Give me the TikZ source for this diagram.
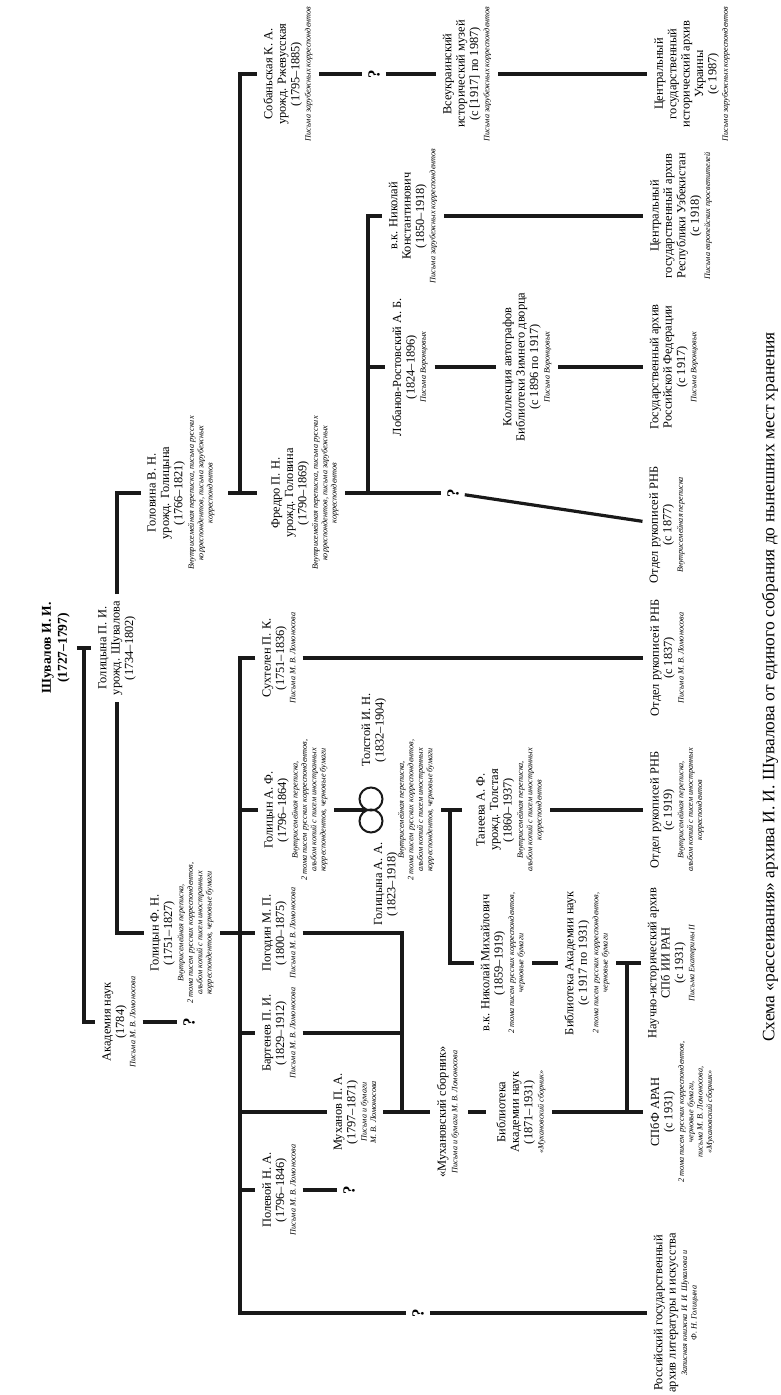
\documentclass[tikz,border=0pt]{standalone}
\usepackage{fontspec}
\setmainfont{Liberation Serif}
\newcommand\nt[1]{{\fontsize{8.2}{9.5}\selectfont\itshape #1}}
\begin{document}
\begin{tikzpicture}[x=1pt,y=-1pt,
  txt/.style={rotate=90,align=center,inner sep=1pt,outer sep=6pt,font=\fontsize{12.4}{13.4}\selectfont},
  qm/.style={rotate=90,inner sep=1pt,outer sep=5pt,font=\fontsize{17}{17}\selectfont\bfseries},
  conn/.style={line width=3.2pt,draw=black!90},
  ring/.style={line width=2pt,draw=black!90}]
\fill[white] (0,0) rectangle (780,1395);
\useasboundingbox (0,0) rectangle (780,1395);

% ---------- nodes ----------
\node[txt,font=\fontsize{13.5}{16}\selectfont\bfseries] (shuv) at (56,648) {Шувалов И. И.\\(1727–1797)};
\node[txt] (golP) at (117,648) {Голицына П. И.\\урожд. Шувалова\\(1734–1802)};
\node[txt] (akad) at (119,1022) {Академия наук\\(1784)\\[-2pt]\nt{Письма М. В. Ломоносова}};
\node[qm] (q3) at (189,1022) {?};
\node[txt] (golovina) at (181,493) {Головина В. Н.\\урожд. Голицына\\(1766–1821)\\[-2pt]\nt{Внутрисемейная переписка, письма русских}\\[-4pt]\nt{корреспондентов, письма зарубежных}\\[-4pt]\nt{корреспондентов}};
\node[txt] (golF) at (182,933) {Голицын Ф. Н.\\(1751–1827)\\[-2pt]\nt{Внутрисемейная переписка,}\\[-4pt]\nt{2 тома писем русских корреспондентов,}\\[-4pt]\nt{альбом копий с писем иностранных}\\[-4pt]\nt{корреспондентов, черновые бумаги}};

\node[txt] (sob) at (288,74) {Собаньская К. А.\\урожд. Ржевусская\\(1795–1885)\\[-2pt]\nt{Письма зарубежных корреспондентов}};
\node[qm] (q1) at (374,74) {?};
\node[txt] (vseukr) at (467,74) {Всеукраинский\\исторический музей\\(с [1917] по 1987)\\[-2pt]\nt{Письма зарубежных корреспондентов}};
\node[txt] (cgiau) at (692,74) {Центральный\\государственный\\исторический архив\\Украины\\(с 1987)\\[-2pt]\nt{Письма зарубежных корреспондентов}};

\node[txt] (vkNK) at (413,216) {в.к. Николай\\Константинович\\(1850–1918)\\[-2pt]\nt{Письма зарубежных корреспондентов}};
\node[txt] (uzb) at (681,216) {Центральный\\государственный архив\\Республики Узбекистан\\(с 1918)\\[-2pt]\nt{Письма европейских просветителей}};

\node[txt] (lob) at (410,367) {Лобанов-Ростовский А. Б.\\(1824–1896)\\[-2pt]\nt{Письма Воронцовых}};
\node[txt] (koll) at (527,367) {Коллекция автографов\\Библиотеки Зимнего дворца\\(с 1896 по 1917)\\[-2pt]\nt{Письма Воронцовых}};
\node[txt] (garf) at (674,367) {Государственный архив\\Российской Федерации\\(с 1917)\\[-2pt]\nt{Письма Воронцовых}};

\node[txt] (fredro) at (305,493) {Фредро П. Н.\\урожд. Головина\\(1790–1869)\\[-2pt]\nt{Внутрисемейная переписка, письма русских}\\[-4pt]\nt{корреспондентов, письма зарубежных}\\[-4pt]\nt{корреспондентов}};
\node[qm] (q2) at (453,493) {?};
\node[txt] (rnb77) at (667,525) {Отдел рукописей РНБ\\(с 1877)\\[-2pt]\nt{Внутрисемейная переписка}};

\node[txt] (sukh) at (279,658) {Сухтелен П. К.\\(1751–1836)\\[-2pt]\nt{Письма М. В. Ломоносова}};
\node[txt] (rnb37) at (667,658) {Отдел рукописей РНБ\\(с 1837)\\[-2pt]\nt{Письма М. В. Ломоносова}};

\node[txt] (golAF) at (296,810) {Голицын А. Ф.\\(1796–1864)\\[-2pt]\nt{Внутрисемейная переписка,}\\[-4pt]\nt{2 тома писем русских корреспондентов,}\\[-4pt]\nt{альбом копий с писем иностранных}\\[-4pt]\nt{корреспондентов, черновые бумаги}};
\node[txt] (tolst) at (374,730) {Толстой И. Н.\\(1832–1904)};
\node[txt] (golAA) at (386,884) {Голицына А. А.\\(1823–1918)};
\node[txt,font=\fontsize{8.2}{9.5}\selectfont\itshape] (tnotes) at (416,810) {Внутрисемейная переписка,\\2 тома писем русских корреспондентов,\\альбом копий с писем иностранных\\корреспондентов, черновые бумаги};
\node[txt] (tan) at (510,810) {Танеева А. Ф.\\урожд. Толстая\\(1860–1937)\\[-2pt]\nt{Внутрисемейная переписка,}\\[-4pt]\nt{альбом копий с писем иностранных}\\[-4pt]\nt{корреспондентов}};
\node[txt] (rnb19) at (677,810) {Отдел рукописей РНБ\\(с 1919)\\[-2pt]\nt{Внутрисемейная переписка,}\\[-4pt]\nt{альбом копий с писем иностранных}\\[-4pt]\nt{корреспондентов}};

\node[txt] (pogodin) at (279,933) {Погодин М. П.\\(1800–1875)\\[-2pt]\nt{Письма М. В. Ломоносова}};
\node[txt] (bart) at (279,1033) {Бартенев П. И.\\(1829–1912)\\[-2pt]\nt{Письма М. В. Ломоносова}};
\node[txt] (polev) at (279,1190) {Полевой Н. А.\\(1796–1846)\\[-2pt]\nt{Письма М. В. Ломоносова}};
\node[qm] (q4) at (349,1190) {?};

\node[txt] (vkNM) at (503,963) {в.к. Николай Михайлович\\(1859–1919)\\[-2pt]\nt{2 тома писем русских корреспондентов,}\\[-4pt]\nt{черновые бумаги}};
\node[txt] (banLib2) at (587,963) {Библиотека Академии наук\\(с 1917 по 1931)\\[-2pt]\nt{2 тома писем русских корреспондентов,}\\[-4pt]\nt{черновые бумаги}};
\node[txt] (nia) at (672,963) {Научно-исторический архив\\СПб ИИ РАН\\(с 1931)\\[-2pt]\nt{Письма Екатерины II}};

\node[txt] (muh) at (355,1112) {Муханов П. А.\\(1797–1871)\\[-2pt]\nt{Письма и бумаги}\\[-4pt]\nt{М. В. Ломоносова}};
\node[txt] (muhsb) at (448,1112) {«Мухановский сборник»\\[-2pt]\nt{Письма и бумаги М. В. Ломоносова}};
\node[txt] (banLib1) at (521,1112) {Библиотека\\Академии наук\\(1871–1931)\\[-2pt]\nt{«Мухановский сборник»}};
\node[txt] (spbf) at (682,1112) {СПбФ АРАН\\(с 1931)\\[-2pt]\nt{2 тома писем русских корреспондентов,}\\[-4pt]\nt{черновые бумаги,}\\[-4pt]\nt{письма М. В. Ломоносова,}\\[-4pt]\nt{«Мухановский сборник»}};

\node[qm] (q5) at (418,1313) {?};
\node[txt] (rgali) at (676,1313) {Российский государственный\\архив литературы и искусства\\[-2pt]\nt{Записная книжка И. И. Шувалова и}\\[-4pt]\nt{Ф. Н. Голицына}};

\node[rotate=90,inner sep=0pt,font=\fontsize{17.4}{20}\selectfont] (cap) at (770,687) {Схема «рассеивания» архива И. И. Шувалова от единого собрания до нынешних мест хранения};

% ---------- coordinates ----------
\coordinate (shJ) at (84,648);
\coordinate (sA) at (240,493);
\coordinate (sB0) at (240,658);
\coordinate (sBend) at (240,1313);
\coordinate (fJ) at (368,493);
\coordinate (pJ) at (402,933);
\coordinate (mJ) at (402,1112);
\coordinate (tJ) at (450,810);
\coordinate (bJ) at (627,963);
\coordinate (rA) at (371,799);
\coordinate (rB) at (371,821);
\coordinate (ringV) at (366,810);

% ---------- connectors ----------
\draw[conn] (shuv) -- (golP);
\draw[conn] (shJ) |- (akad);
\draw[conn] (akad) -- (q3);
\draw[conn] (golP.east) |- (golovina);
\draw[conn] (golP.west) |- (golF);

\draw[conn,shorten <=7pt,shorten >=8pt] (golovina) -- (fredro);
\draw[conn] (sob) -| (sA);
\draw[conn] (sob) -- (q1);
\draw[conn] (q1) -- (vseukr);
\draw[conn] (vseukr) -- (cgiau);

\draw[conn] (fredro) -- (q2);
\draw[conn] (fJ) |- (vkNK);
\draw[conn] (fJ |- lob) -- (lob);
\draw[conn] (vkNK) -- (uzb);
\draw[conn] (lob) -- (koll);
\draw[conn] (koll) -- (garf);
\draw[conn] (q2) -- (rnb77);

\draw[conn] (sukh) -| (sBend) -- (q5);
\draw[conn] (q5) -- (rgali);
\draw[conn] (sukh) -- (rnb37);
\draw[conn] (sB0 |- golAF) -- (golAF);
\draw[conn] (golF) -- (pogodin);
\draw[conn] (sB0 |- bart) -- (bart);
\draw[conn] (sB0 |- muh) -- (muh);
\draw[conn] (sB0 |- polev) -- (polev);
\draw[conn] (polev) -- (q4);

\draw[conn] (golAF) -- (ringV);
\draw[ring] (rA) circle (11.5pt);
\draw[ring] (rB) circle (11.5pt);
\draw[conn,shorten >=8pt] (tnotes) -- (tan);
\draw[conn] (tJ) |- (vkNM);
\draw[conn] (tan) -- (rnb19);
\draw[conn] (vkNM) -- (banLib2);
\draw[conn] (banLib2) -- (nia);
\draw[conn] (bJ) -- (bJ |- spbf);

\draw[conn] (pogodin) -| (mJ);
\draw[conn] (bart) -- (bart -| pJ);
\draw[conn] (muh) -- (muhsb);
\draw[conn,shorten <=2pt,shorten >=4pt] (muhsb) -- (banLib1);
\draw[conn] (banLib1) -- (spbf);
\end{tikzpicture}
\end{document}
